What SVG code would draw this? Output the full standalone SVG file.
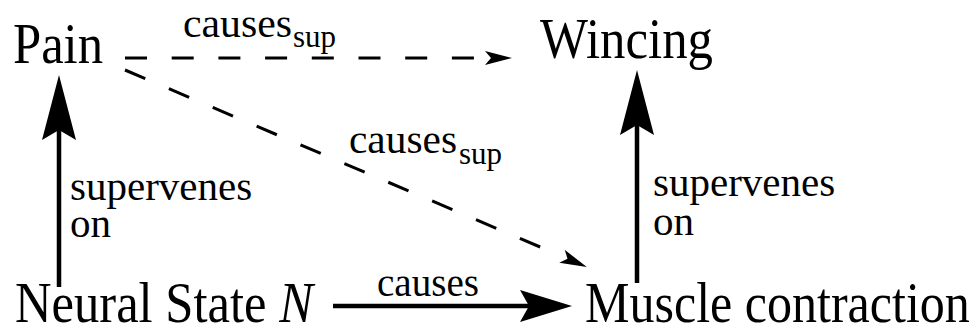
<svg xmlns="http://www.w3.org/2000/svg" width="978" height="336" viewBox="0 0 978 336">
  <style>
    .node { font-family: "Liberation Serif", "Times New Roman", serif; font-size: 56px; fill: #000; }
    .lbl { font-family: "Liberation Serif", "Times New Roman", serif; font-size: 41px; fill: #000; }
    .sub { font-family: "Liberation Serif", "Times New Roman", serif; font-size: 32px; fill: #000; }
    .solid { fill: none; stroke: #000; stroke-width: 4.5; }
    .dash { fill: none; stroke: #000; stroke-width: 3; }
  </style>
  <defs>
    <marker id="bigV" markerUnits="userSpaceOnUse" markerWidth="66" markerHeight="36" refX="10" refY="17" orient="auto">
      <path d="M0,0 L65,17 L0,34 L10,17 Z" fill="#000"/>
    </marker>
    <marker id="bigH" markerUnits="userSpaceOnUse" markerWidth="53" markerHeight="34" refX="9" refY="16" orient="auto">
      <path d="M0,0 L52,16 L0,32 L9,16 Z" fill="#000"/>
    </marker>
    <marker id="small" markerUnits="userSpaceOnUse" markerWidth="28" markerHeight="16" refX="1" refY="7" orient="auto">
      <path d="M0,0 L27,7 L0,14 L6,7 Z" fill="#000"/>
    </marker>
  </defs>

  <g id="connectors">
    <path id="pain-wincing" class="dash" d="M125,58 L486,58" stroke-dasharray="22 24.7" marker-end="url(#small)"/>
    <path id="pain-muscle" class="dash" d="M125,70 L562.9,256.7" stroke-dasharray="22 25.7" marker-end="url(#small)"/>
    <path id="neural-pain" class="solid" d="M59,287 L59,130" marker-end="url(#bigV)"/>
    <path id="muscle-wincing" class="solid" d="M637,283 L637,125" marker-end="url(#bigV)"/>
    <path id="neural-muscle" class="solid" d="M333,306 L529,306" marker-end="url(#bigH)"/>
    <g id="edge-labels">
      <text class="lbl" x="183" y="37" textLength="109" lengthAdjust="spacingAndGlyphs">causes</text>
      <text class="sub" x="293" y="47" textLength="43" lengthAdjust="spacingAndGlyphs">sup</text>
      <text class="lbl" x="349" y="153" textLength="108" lengthAdjust="spacingAndGlyphs">causes</text>
      <text class="sub" x="459" y="164" textLength="43" lengthAdjust="spacingAndGlyphs">sup</text>
      <text class="lbl" x="377" y="296" textLength="102" lengthAdjust="spacingAndGlyphs">causes</text>
      <text class="lbl"><tspan x="70" y="200">supervenes</tspan><tspan x="70" y="237">on</tspan></text>
      <text class="lbl"><tspan x="653" y="196">supervenes</tspan><tspan x="653" y="235">on</tspan></text>
    </g>
  </g>

  <g id="node-pain">
    <text class="node" x="13" y="63" textLength="90" lengthAdjust="spacingAndGlyphs">Pain</text>
  </g>
  <g id="node-wincing">
    <text class="node" x="540" y="58" textLength="173" lengthAdjust="spacingAndGlyphs">Wincing</text>
  </g>
  <g id="node-neural">
    <text class="node" transform="translate(15,322) scale(0.904,1)" x="0" y="0">Neural State <tspan font-style="italic">N</tspan></text>
  </g>
  <g id="node-muscle">
    <text class="node" transform="translate(585,321.5) scale(0.8937,1)" x="0" y="0">Muscle contraction</text>
  </g>
</svg>
